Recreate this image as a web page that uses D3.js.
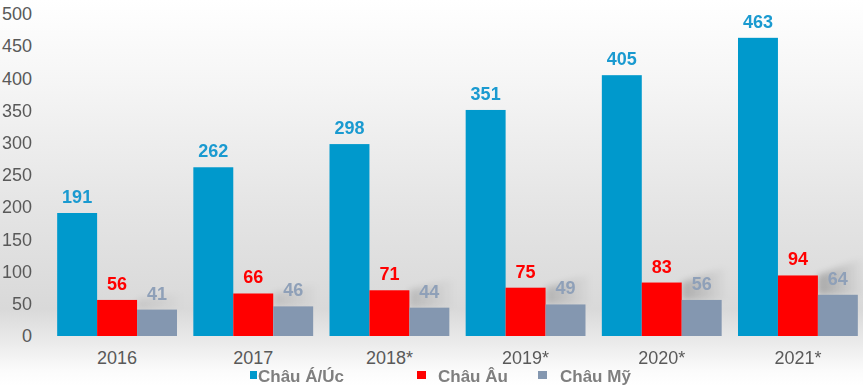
<!DOCTYPE html>
<html>
<head>
<meta charset="utf-8">
<script src="https://cdn.jsdelivr.net/npm/d3@7"></script>
<style>
  html, body { margin: 0; padding: 0; background: #fff; }
  svg { display: block; font-family: 'Liberation Sans', Arial, sans-serif; }
</style>
</head>
<body>
<svg id="chart" width="863" height="386"></svg>
<script>
var years = ['2016', '2017', '2018*', '2019*', '2020*', '2021*'];
var seriesNames = ['Châu Á/Úc', 'Châu Âu', 'Châu Mỹ'];
var asiaValues = [191, 262, 298, 351, 405, 463];
var europeValues = [56, 66, 71, 75, 83, 94];
var americaValues = [41, 46, 44, 49, 56, 64];
var yTicks = [0, 50, 100, 150, 200, 250, 300, 350, 400, 450, 500];

var barColors = ['#0099cc', '#ff0000', '#8497b0'];
var labelColors = ['#1a9ad0', '#ff0000', '#8fa0b8'];

var Chart = function(svg) {
  'use strict';
  this.svg = svg;
  this.init();
};

Chart.prototype = {
  init: function() {
    this.series = [asiaValues, europeValues, americaValues];
    this.x = d3.scaleBand().domain(years).range([49, 866]).paddingInner(0.12).paddingOuter(0.06);
    this.xs = d3.scaleBand().domain(d3.range(3)).range([0, this.x.bandwidth()]);
    this.y = d3.scaleLinear().domain([0, 500]).range([336, 14]);
  },

  render: function() {
    this.paintBackground();
    this.paintShadows();
    this.paintBars();
    this.paintAxes();
    this.paintLegend();
  },

  paintBackground: function() {
    var defs = this.svg.append('defs');
    var grad = defs.append('linearGradient')
      .attr('id', 'bg')
      .attr('x1', 0).attr('y1', 0).attr('x2', 0).attr('y2', 1);
    [[0, '#ffffff'], [0.2, '#f6f6f6'], [0.55, '#e4e4e4'], [0.8, '#d9d9d9'],
     [0.88, '#e9e9e9'], [0.96, '#fbfbfb'], [1, '#ffffff']].forEach(function(s) {
      grad.append('stop').attr('offset', s[0]).attr('stop-color', s[1]);
    });

    var shade = defs.append('linearGradient')
      .attr('id', 'shade')
      .attr('x1', 0).attr('y1', 0).attr('x2', 1).attr('y2', 0);
    shade.append('stop').attr('offset', 0).attr('stop-color', '#000').attr('stop-opacity', 0.3);
    shade.append('stop').attr('offset', 1).attr('stop-color', '#000').attr('stop-opacity', 0);

    defs.append('filter').attr('id', 'blur')
      .attr('x', '-50%').attr('y', '-50%').attr('width', '200%').attr('height', '200%')
      .append('feGaussianBlur').attr('stdDeviation', 3);

    this.svg.append('rect')
      .attr('width', 863).attr('height', 386)
      .attr('fill', 'url(#bg)');
  },

  paintShadows: function() {
    var self = this;
    // wedge of shade cast from the red bar over the grey one
    this.svg.append('g')
      .attr('filter', 'url(#blur)')
      .selectAll('path')
      .data(years)
      .join('path')
      .attr('d', function(d, i) {
        var x0 = self.x(d) + self.xs(2);
        var x1 = x0 + self.xs.bandwidth() + 6;
        var yr = self.y(europeValues[i]);
        var yg = self.y(americaValues[i]);
        return 'M' + x0 + ',' + yr +
          'L' + x1 + ',' + (yr - 8 - i * 2) +
          'L' + x1 + ',' + (yr + 2) +
          'L' + x1 + ',' + yg +
          'L' + x0 + ',' + yg + 'Z';
      })
      .attr('fill', 'url(#shade)')
      .attr('opacity', function(d, i) { return 0.3 + i * 0.1; });
  },

  paintBars: function() {
    var self = this;
    var groups = this.svg.append('g')
      .selectAll('g')
      .data(years)
      .join('g')
      .attr('transform', function(d) { return 'translate(' + self.x(d) + ',0)'; });

    var cells = groups.selectAll('g')
      .data(function(d, i) {
        return self.series.map(function(s, k) { return { k: k, v: s[i] }; });
      })
      .join('g');

    cells.append('rect')
      .attr('x', function(d) { return self.xs(d.k); })
      .attr('y', function(d) { return self.y(d.v); })
      .attr('width', self.xs.bandwidth())
      .attr('height', function(d) { return self.y(0) - self.y(d.v); })
      .attr('fill', function(d) { return barColors[d.k]; });

    cells.append('text')
      .attr('x', function(d) { return self.xs(d.k) + self.xs.bandwidth() / 2; })
      .attr('y', function(d) { return self.y(d.v) - 10; })
      .attr('text-anchor', 'middle')
      .attr('font-size', 18)
      .attr('font-weight', 'bold')
      .attr('fill', function(d) { return labelColors[d.k]; })
      .text(function(d) { return d.v; });
  },

  paintAxes: function() {
    var yAxis = this.svg.append('g')
      .attr('transform', 'translate(32,0)')
      .call(d3.axisLeft(this.y).tickValues(yTicks).tickSize(0).tickPadding(0));
    yAxis.select('.domain').remove();
    yAxis.selectAll('text')
      .attr('font-size', 18)
      .attr('font-family', null)
      .attr('fill', '#595959');

    var xAxis = this.svg.append('g')
      .attr('transform', 'translate(0,' + 351 + ')')
      .call(d3.axisBottom(this.x).tickSize(0).tickPadding(0));
    xAxis.select('.domain').remove();
    xAxis.selectAll('text')
      .attr('font-size', 18)
      .attr('font-family', null)
      .attr('fill', '#595959');
  },

  paintLegend: function() {
    var items = [
      { name: seriesNames[0], sx: 250, size: 7, tx: 258 },
      { name: seriesNames[1], sx: 417, size: 9, tx: 438 },
      { name: seriesNames[2], sx: 538, size: 9, tx: 560 }
    ];
    var legend = this.svg.append('g')
      .selectAll('g')
      .data(items)
      .join('g');

    legend.append('rect')
      .attr('x', function(d) { return d.sx; })
      .attr('y', 371)
      .attr('width', function(d) { return d.size; })
      .attr('height', 8)
      .attr('fill', function(d, i) { return barColors[i]; });

    legend.append('text')
      .attr('x', function(d) { return d.tx; })
      .attr('y', 382)
      .attr('font-size', 17)
      .attr('font-weight', 'bold')
      .attr('fill', '#7f7f7f')
      .text(function(d) { return d.name; });
  }
};

new Chart(d3.select('#chart')).render();
</script>
</body>
</html>
